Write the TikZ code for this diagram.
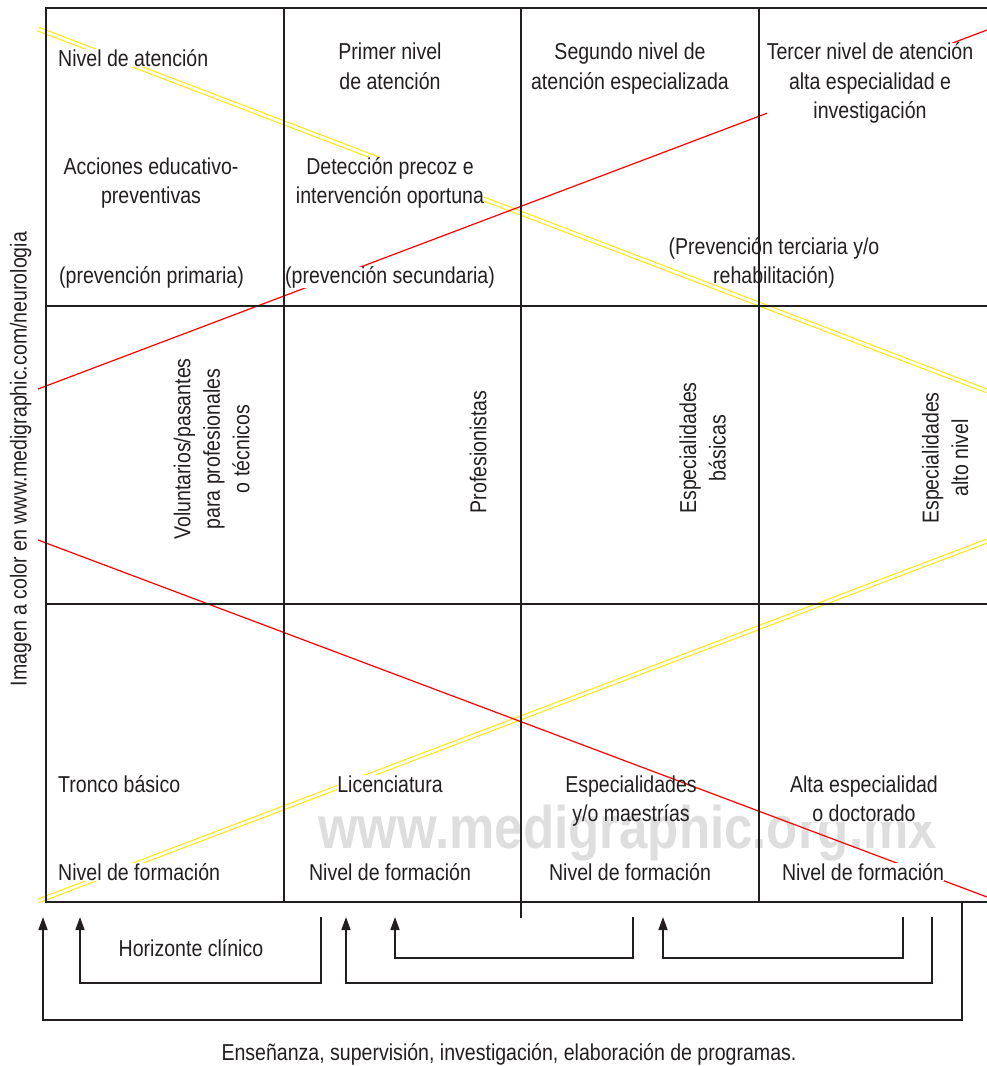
\documentclass[tikz,border=0pt]{standalone}
\usepackage{fontspec}
\setmainfont{Liberation Sans}[FakeStretch=0.85]
\usetikzlibrary{arrows.meta}
\newcommand\lblfont{\fontsize{23}{29.5}\selectfont}
\newcommand\wmkfont{\fontsize{60}{70}\selectfont\bfseries}
% tight per-line strut: cap height above, almost nothing below
\newcommand\ts{\vrule height 17pt depth 0.5pt width 0pt}
\definecolor{ink}{HTML}{231F20}
\definecolor{hiyel}{RGB}{255,232,0}

\begin{document}
\begin{tikzpicture}[x=1pt,y=-1pt,
  gridline/.style={draw=ink, line width=1.3pt},
  redline/.style={draw=red, line width=1.2pt},
  yelline/.style={draw=hiyel, double=white, line width=1.1pt, double distance=2.6pt},
  lbl/.style={font=\lblfont, align=center, inner sep=0pt, text=ink},
  cover/.style={lbl, fill=white},
  vlbl/.style={lbl, rotate=90},
  flow/.style={draw=ink, line width=1.6pt, -{Triangle[length=13pt,width=9pt]}},
]
\useasboundingbox (0,0) rectangle (987,1066);

% faint web address behind the table
\node[font=\wmkfont, text=black!13, anchor=base, inner sep=0pt] (wm) at (627.5,848) {www.medigraphic.org.mx};

% diagonal guide lines
\coordinate (ya1) at (38,29);   \coordinate (yb1) at (987,391);
\coordinate (ya2) at (38,901);  \coordinate (yb2) at (987,541);
\coordinate (ra1) at (38,389);  \coordinate (rb1) at (987,30);
\coordinate (ra2) at (38,540);  \coordinate (rb2) at (987,897);
\draw[yelline] (ya1) -- (yb1);
\draw[yelline] (ya2) -- (yb2);
\draw[redline] (ra1) -- (rb1);
\draw[redline] (ra2) -- (rb2);

% top row: levels of care
\node[cover, anchor=west] (nat) at (58,58.2) {\ts Nivel de atención};
\node[cover] (n1) at (390,66.2) {\ts Primer nivel\\\ts de atención};
\node[cover] (n2) at (630,68.4) {\ts Segundo nivel de\\\ts atención especializada};
\node[cover] (n3) at (870,83) {\ts Tercer nivel de atención\\\ts alta especialidad e\\\ts investigación};
\node[cover] (acc) at (151,183) {\ts Acciones educativo-\\\ts preventivas};
\node[cover] (det) at (390,183) {\ts Detección precoz e\\\ts intervención oportuna};
\node[cover] (pp) at (151.5,277.4) {\ts (prevención primaria)};
\node[cover] (ps) at (390,277.4) {\ts (prevención secundaria)};
\node[lbl] (pt) at (774,263) {\ts (Prevención terciaria y/o\\\ts rehabilitación)};

% middle row: human resources
\node[vlbl] (vol) at (211.7,449) {\ts Voluntarios/pasantes\\\ts para profesionales\\\ts o técnicos};
\node[vlbl] (pro) at (478,452) {\ts Profesionistas};
\node[vlbl] (eb) at (702.5,448) {\ts Especialidades\\\ts básicas};
\node[vlbl] (ea) at (945,458) {\ts Especialidades\\\ts alto nivel};

% bottom row: training levels
\node[cover, anchor=west] (tb) at (58,784.2) {\ts Tronco básico};
\node[cover] (lic) at (390,784.2) {\ts Licenciatura};
\node[lbl] (esp) at (631,801) {\ts Especialidades\\\ts y/o maestrías};
\node[cover] (alt) at (864,798.7) {\ts Alta especialidad\\\ts o doctorado};
\node[cover, anchor=west] (nf1) at (58,872.2) {\ts Nivel de formación};
\node[cover] (nf2) at (390,872.2) {\ts Nivel de formación};
\node[cover] (nf3) at (630,872.2) {\ts Nivel de formación};
\node[cover] (nf4) at (863,872.2) {\ts Nivel de formación};

% side note
\node[vlbl] (side) at (20.4,459) {\ts Imagen a color en www.medigraphic.com/neurologia};

% table grid
\draw[gridline] (987,8) -- (46,8) -- (46,902) -- (987,902);
\draw[gridline] (46,306) -- (987,306);
\draw[gridline] (46,604) -- (987,604);
\draw[gridline] (284,8) -- (284,902);
\draw[gridline] (521,8) -- (521,918);
\draw[gridline] (759,8) -- (759,902);

% feedback arrows under the table
\coordinate (s1) at (962,902);  \coordinate (e1) at (43,917);
\coordinate (s2) at (321,917);  \coordinate (e2) at (80,917);
\coordinate (s3) at (932,917);  \coordinate (e3) at (346,917);
\coordinate (s4) at (633,917);  \coordinate (e4) at (395,917);
\coordinate (s5) at (903,917);  \coordinate (e5) at (663,917);
\draw[flow] (s1) -- (962,1020) -| (e1);
\draw[flow] (s2) -- (321,983) -| (e2);
\draw[flow] (s3) -- (932,983) -| (e3);
\draw[flow] (s4) -- (633,958) -| (e4);
\draw[flow] (s5) -- (903,958) -| (e5);

\node[lbl] (hc) at (191,948) {\ts Horizonte clínico};
\node[lbl] (cap) at (509,1054.4) {\ts Enseñanza, supervisión, investigación, elaboración de programas.};
\end{tikzpicture}
\end{document}
